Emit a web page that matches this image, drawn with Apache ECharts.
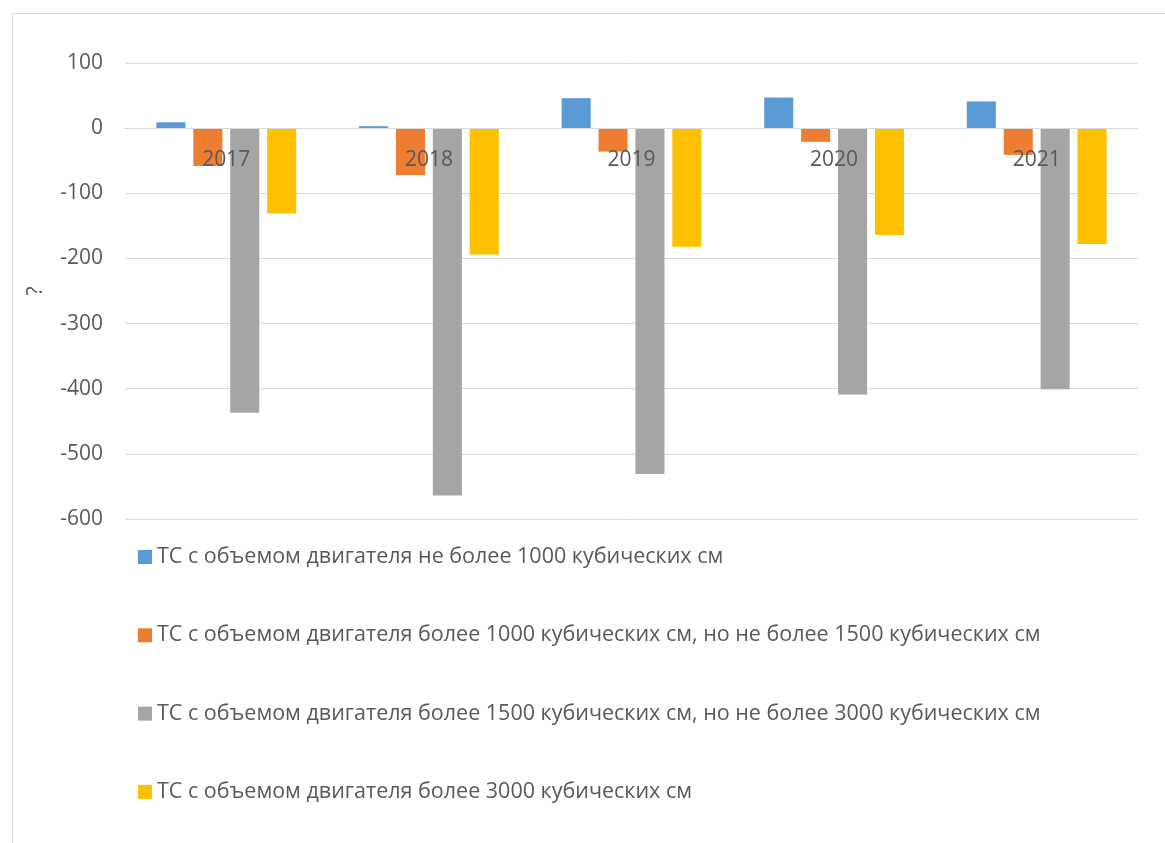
<!DOCTYPE html>
<html>
<head>
<meta charset="utf-8">
<script src="https://cdn.jsdelivr.net/npm/echarts@6/dist/echarts.min.js"></script>
<style>
  html, body { margin: 0; padding: 0; background: #ffffff; }
  #chart { width: 1165px; height: 843px; }
</style>
</head>
<body>
<div id="chart"></div>
<script>
// Years on the category axis
const years = ['2017', '2018', '2019', '2020', '2021'];

// Series names (engine displacement groups)
const seriesNames = [
  'ТС с объемом двигателя не более 1000 кубических см',
  'ТС с объемом двигателя более 1000 кубических см, но не более 1500 кубических см',
  'ТС с объемом двигателя более 1500 кубических см, но не более 3000 кубических см',
  'ТС с объемом двигателя более 3000 кубических см'
];

// Values per series, one per year
const upTo1000 = [9, 3, 46, 47, 41];
const from1000to1500 = [-58, -72, -36, -21, -41];
const from1500to3000 = [-437, -564, -531, -409, -401];
const over3000 = [-131, -194, -182, -164, -178];

// Value axis ticks
const yMin = -600;
const yMax = 100;
const yStep = 100;

const colors = ['#5b9bd5', '#ed7d31', '#a5a5a5', '#ffc000'];
const fontFamily = '"Open Sans", "Noto Sans", sans-serif';
const textColor = '#595959';

// Plot box in pixels
const gridTop = 63;
const gridBottom = 324;
const chartHeight = 843;
const plotHeight = chartHeight - gridTop - gridBottom;
// Distance from the bottom of the plot up to the zero line
const zeroLift = plotHeight * (0 - yMin) / (yMax - yMin);

const chart = echarts.init(document.getElementById('chart'), null, { renderer: 'canvas' });

const seriesData = [upTo1000, from1000to1500, from1500to3000, over3000];

chart.setOption({
  animation: false,
  backgroundColor: '#ffffff',
  color: colors,
  textStyle: { fontFamily: fontFamily },
  graphic: [{
    type: 'rect',
    shape: { x: 12.5, y: 13.5, width: 1200, height: 900 },
    style: { fill: 'none', stroke: '#d9d9d9', lineWidth: 1 },
    silent: true,
    z: -10
  }],
  grid: { left: 125, right: 27, top: gridTop, bottom: gridBottom, containLabel: false },
  legend: {
    orient: 'vertical',
    left: 133,
    top: 541,
    itemWidth: 14,
    itemHeight: 14,
    itemGap: 56.3,
    icon: 'rect',
    selectedMode: false,
    textStyle: { fontFamily: fontFamily, fontSize: 21.5, color: textColor },
    data: seriesNames
  },
  xAxis: {
    type: 'category',
    data: years,
    z: 10,
    offset: -zeroLift,
    axisLine: { onZero: false, lineStyle: { color: '#d9d9d9', width: 1 } },
    axisTick: { show: false },
    axisLabel: { color: textColor, fontFamily: fontFamily, fontSize: 21, margin: 21 },
    splitLine: { show: false }
  },
  yAxis: {
    type: 'value',
    min: yMin,
    max: yMax,
    interval: yStep,
    name: '?',
    nameLocation: 'middle',
    nameRotate: 90,
    nameGap: 78,
    nameTextStyle: { color: textColor, fontFamily: fontFamily, fontSize: 21 },
    axisLine: { show: false },
    axisTick: { show: false },
    axisLabel: { color: textColor, fontFamily: fontFamily, fontSize: 21, margin: 22 },
    splitLine: { lineStyle: { color: '#d9d9d9', width: 1 } }
  },
  series: seriesNames.map((name, i) => ({
    name: name,
    type: 'bar',
    data: seriesData[i],
    barGap: '27%',
    barCategoryGap: '31%',
    itemStyle: { color: colors[i] },
    z: 2
  }))
});
</script>
</body>
</html>
